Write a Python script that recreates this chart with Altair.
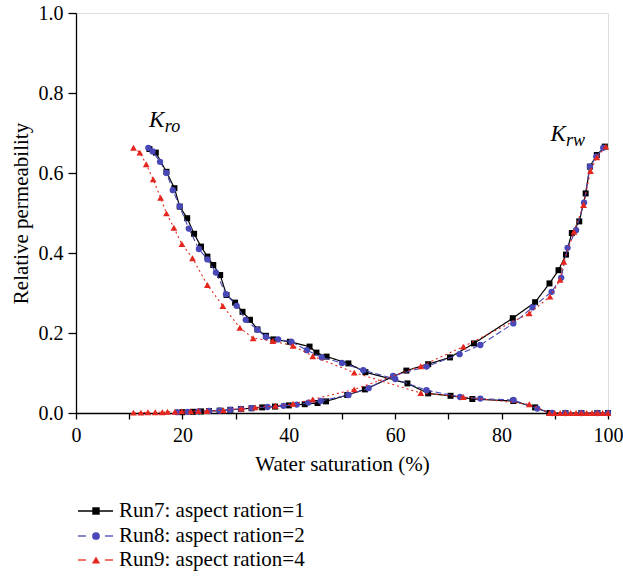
import altair as alt
import pandas as pd

runs = ["Run7: aspect ration=1", "Run8: aspect ration=2", "Run9: aspect ration=4"]
colors = ["#000000", "#4848b8", "#e4261e"]
shapes = ["square", "circle", "triangle-up"]
dashes = [[1, 0], [6, 3], [2, 3]]

# Run7 (aspect ratio 1)
run7_kro_x = [13.8, 15.0, 17.0, 18.5, 19.5, 20.9, 22.2, 23.5, 24.7, 25.8, 27.1, 28.3, 29.9, 31.3, 32.7, 34.1,
              35.7, 37.1, 40.2, 43.9, 45.2, 47.1, 51.2, 54.4, 62.3, 66.2, 70.4, 74.5, 82.2, 86.3, 89.0, 92.0,
              95.0, 98.0, 100.0]
run7_kro_y = [0.660, 0.651, 0.603, 0.562, 0.516, 0.487, 0.448, 0.416, 0.391, 0.370, 0.345, 0.295, 0.276, 0.253,
              0.233, 0.209, 0.193, 0.184, 0.178, 0.166, 0.151, 0.141, 0.124, 0.102, 0.074, 0.049, 0.043, 0.035,
              0.030, 0.014, 0.0, 0.0, 0.0, 0.0, 0.0]
run7_krw_x = [20.0, 22.0, 23.5, 25.0, 27.0, 29.0, 31.0, 33.0, 35.0, 37.4, 40.0, 43.0, 45.4, 47.0, 51.0, 54.3,
              62.1, 66.2, 70.3, 74.8, 82.1, 86.3, 89.0, 90.7, 92.1, 93.2, 94.6, 95.8, 96.6, 97.9, 99.4]
run7_krw_y = [0.002, 0.003, 0.004, 0.005, 0.006, 0.008, 0.010, 0.012, 0.014, 0.016, 0.019, 0.022, 0.025, 0.029,
              0.045, 0.059, 0.106, 0.122, 0.139, 0.174, 0.237, 0.277, 0.324, 0.357, 0.396, 0.450, 0.479, 0.549,
              0.616, 0.645, 0.666]

# Run8 (aspect ratio 2)
run8_kro_x = [13.6, 14.4, 15.8, 17.0, 18.2, 19.5, 21.2, 23.1, 24.7, 26.3, 28.2, 30.2, 31.9, 34.1, 35.7, 38.0,
              40.5, 43.4, 46.2, 50.0, 54.0, 60.0, 65.9, 72.2, 76.0, 82.2, 86.7, 89.5, 92.0, 95.0, 98.0, 100.0]
run8_kro_y = [0.663, 0.654, 0.628, 0.600, 0.557, 0.516, 0.461, 0.410, 0.384, 0.351, 0.297, 0.268, 0.233, 0.208,
              0.190, 0.184, 0.178, 0.157, 0.139, 0.125, 0.107, 0.085, 0.057, 0.040, 0.036, 0.0325, 0.011, 0.0,
              0.0, 0.0, 0.0, 0.0]
run8_krw_x = [19.0, 21.0, 23.0, 25.0, 27.0, 29.0, 31.0, 33.0, 36.0, 39.0, 41.5, 43.7, 46.0, 51.2, 55.0, 59.6,
              65.9, 72.1, 76.0, 82.2, 85.8, 89.4, 91.2, 92.4, 94.0, 95.5, 96.6, 97.8, 99.1]
run8_krw_y = [0.002, 0.003, 0.004, 0.005, 0.006, 0.008, 0.010, 0.012, 0.015, 0.018, 0.021, 0.026, 0.030, 0.045,
              0.062, 0.093, 0.116, 0.147, 0.170, 0.224, 0.264, 0.303, 0.338, 0.413, 0.457, 0.526, 0.616, 0.641,
              0.663]

# Run9 (aspect ratio 4)
run9_kro_x = [10.8, 12.0, 13.2, 14.5, 15.9, 17.0, 18.4, 19.9, 21.9, 24.7, 27.6, 30.8, 33.3, 37.0, 40.8, 44.5,
              52.3, 64.8, 72.8, 85.2, 89.0, 90.0, 91.0, 92.0, 93.0, 94.0, 95.0, 96.0, 97.0, 98.0, 99.0, 100.0]
run9_kro_y = [0.663, 0.651, 0.622, 0.584, 0.538, 0.499, 0.463, 0.4225, 0.387, 0.320, 0.2675, 0.213, 0.187, 0.180,
              0.168, 0.142, 0.101, 0.050, 0.040, 0.022, 0.0, 0.0, 0.0, 0.0, 0.0, 0.0, 0.0, 0.0, 0.0, 0.0, 0.0, 0.0]
run9_krw_x = [10.8, 12.2, 13.5, 14.9, 16.2, 17.2, 18.6, 19.9, 21.6, 23.0, 24.6, 27.7, 31.1, 33.7, 37.5, 40.8,
              44.5, 52.3, 64.8, 72.8, 85.2, 89.1, 91.0, 91.7, 93.6, 95.4, 96.7, 97.9, 99.6]
run9_krw_y = [0.001, 0.001, 0.002, 0.002, 0.002, 0.003, 0.003, 0.004, 0.004, 0.005, 0.005, 0.007, 0.011, 0.014,
              0.018, 0.023, 0.034, 0.059, 0.117, 0.166, 0.249, 0.291, 0.333, 0.378, 0.453, 0.520, 0.605, 0.639,
              0.666]

series = [
    (runs[0], "Kro", run7_kro_x, run7_kro_y), (runs[0], "Krw", run7_krw_x, run7_krw_y),
    (runs[1], "Kro", run8_kro_x, run8_kro_y), (runs[1], "Krw", run8_krw_x, run8_krw_y),
    (runs[2], "Kro", run9_kro_x, run9_kro_y), (runs[2], "Krw", run9_krw_x, run9_krw_y),
]
rows = []
for run, curve, xs, ys in series:
    for x, y in zip(xs, ys):
        rows.append({"sw": x, "kr": y, "run": run, "curve": curve})
df = pd.DataFrame(rows)

FONT = "Liberation Serif"

xscale = alt.Scale(domain=[0, 100], nice=False)
yscale = alt.Scale(domain=[0, 1.0], nice=False)

xaxis = alt.Axis(values=list(range(0, 101, 10)), labelExpr="datum.value % 20 == 0 ? datum.label : ''",
                 title="Water saturation (%)", grid=False, tickSize=6, labelPadding=6, titlePadding=8,
                 domainColor="black", tickColor="black", domainWidth=1.3, tickWidth=1.3,
                 labelFont=FONT, titleFont=FONT, labelFontSize=20, titleFontSize=21,
                 labelColor="black", titleColor="black", titleFontWeight="normal", labelFlush=False)
yaxis = alt.Axis(values=[i / 10 for i in range(0, 11)],
                 labelExpr="round(datum.value*10) % 2 == 0 ? format(datum.value, '.1f') : ''",
                 title="Relative permeability", grid=False, tickSize=8, labelPadding=5, titlePadding=7,
                 domainColor="black", tickColor="black", domainWidth=1.3, tickWidth=1.3,
                 labelFont=FONT, titleFont=FONT, labelFontSize=20, titleFontSize=21,
                 labelColor="black", titleColor="black", titleFontWeight="normal")

layers = []
for i in [0, 1, 2]:
    sub = df[df["run"] == runs[i]]
    base = alt.Chart(sub)
    line = base.mark_line(color=colors[i], strokeWidth=1.2 if i == 0 else 1.1, strokeDash=dashes[i]).encode(
        x=alt.X("sw:Q", scale=xscale, axis=xaxis),
        y=alt.Y("kr:Q", scale=yscale, axis=yaxis),
        detail="curve:N",
    )
    pts = base.mark_point(shape=shapes[i], filled=True, color=colors[i], opacity=1,
                          size=[36, 40, 46][i]).encode(
        x=alt.X("sw:Q", scale=xscale),
        y=alt.Y("kr:Q", scale=yscale),
    )
    layers += [line, pts]

# curve annotations K_ro and K_rw
ann_main = pd.DataFrame({"sw": [13.7, 89.2], "kr": [0.716, 0.680], "t": ["K", "K"]})
ann_sub = pd.DataFrame({"sw": [16.7, 92.1], "kr": [0.703, 0.668], "t": ["ro", "rw"]})
layers.append(alt.Chart(ann_main).mark_text(font=FONT, fontStyle="italic", fontSize=23, align="left",
                                            baseline="alphabetic", color="black").encode(
    x=alt.X("sw:Q", scale=xscale), y=alt.Y("kr:Q", scale=yscale), text="t:N"))
layers.append(alt.Chart(ann_sub).mark_text(font=FONT, fontStyle="italic", fontSize=18, align="left",
                                           baseline="alphabetic", color="black").encode(
    x=alt.X("sw:Q", scale=xscale), y=alt.Y("kr:Q", scale=yscale), text="t:N"))

# custom legend below the plot
leg_y = [498, 523, 547]
for i, run in enumerate(runs):
    one = alt.Chart(pd.DataFrame({"run": [run]}))
    if i == 0:
        layers.append(one.mark_rule(color=colors[i], strokeWidth=1.3).encode(
            x=alt.value(2), x2=alt.value(37), y=alt.value(leg_y[i])))
    else:
        layers.append(one.mark_rule(color=colors[i], strokeWidth=1.3).encode(
            x=alt.value(2), x2=alt.value(10), y=alt.value(leg_y[i])))
        layers.append(one.mark_rule(color=colors[i], strokeWidth=1.3).encode(
            x=alt.value(29), x2=alt.value(37), y=alt.value(leg_y[i])))
    layers.append(one.mark_point(shape=shapes[i], filled=True, color=colors[i], opacity=1,
                                 size=[55, 60, 65][i]).encode(
        x=alt.value(20), y=alt.value(leg_y[i])))
    layers.append(one.mark_text(font=FONT, fontSize=21, align="left", baseline="middle", color="black").encode(
        x=alt.value(43), y=alt.value(leg_y[i]), text="run:N"))

chart = alt.layer(*layers).properties(
    width=532, height=400,
    autosize=alt.AutoSizeParams(type="none"),
    padding={"left": 76, "top": 13, "right": 15, "bottom": 165},
).configure_view(stroke=None).configure(background="white")

chart.save("out.html", embed_options={"renderer": "svg", "actions": False})
